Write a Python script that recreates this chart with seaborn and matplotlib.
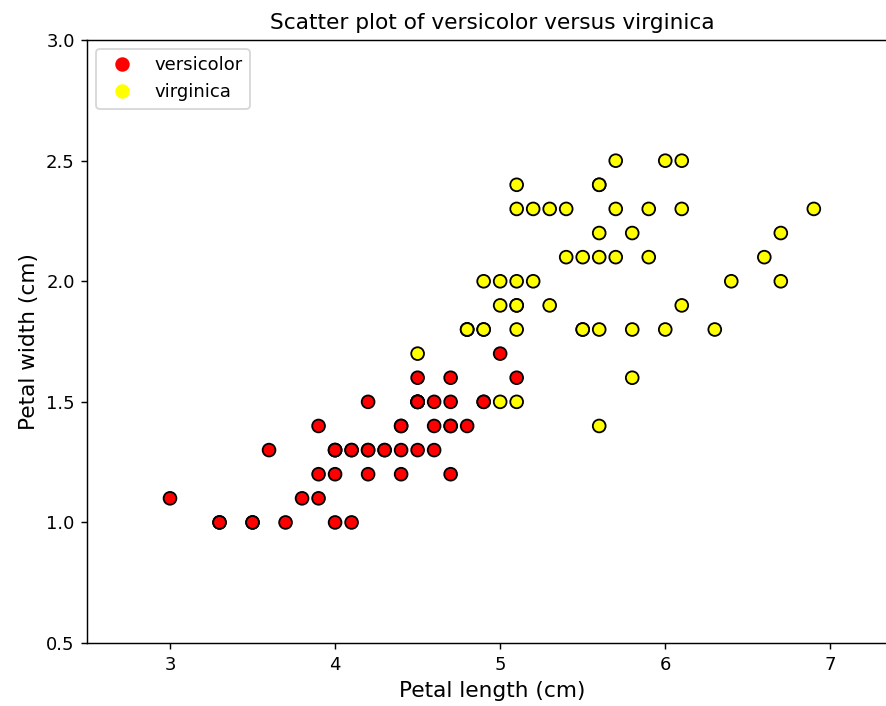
import matplotlib
matplotlib.use("Agg")
import matplotlib.pyplot as plt
from matplotlib.lines import Line2D
import seaborn as sns
import pandas as pd

# Iris petal measurements for the two species
versicolor_length = [4.7, 4.5, 4.9, 4.0, 4.6, 4.5, 4.7, 3.3, 4.6, 3.9,
                     3.5, 4.2, 4.0, 4.7, 3.6, 4.4, 4.5, 4.1, 4.5, 3.9,
                     4.8, 4.0, 4.9, 4.7, 4.3, 4.4, 4.8, 5.0, 4.5, 3.5,
                     3.8, 3.7, 3.9, 5.1, 4.5, 4.5, 4.7, 4.4, 4.1, 4.0,
                     4.4, 4.6, 4.0, 3.3, 4.2, 4.2, 4.2, 4.3, 3.0, 4.1]
versicolor_width = [1.4, 1.5, 1.5, 1.3, 1.5, 1.3, 1.6, 1.0, 1.3, 1.4,
                    1.0, 1.5, 1.0, 1.4, 1.3, 1.4, 1.5, 1.0, 1.5, 1.1,
                    1.8, 1.3, 1.5, 1.2, 1.3, 1.4, 1.4, 1.7, 1.5, 1.0,
                    1.1, 1.0, 1.2, 1.6, 1.5, 1.6, 1.5, 1.3, 1.3, 1.3,
                    1.2, 1.4, 1.2, 1.0, 1.3, 1.2, 1.3, 1.3, 1.1, 1.3]
virginica_length = [6.0, 5.1, 5.9, 5.6, 5.8, 6.6, 4.5, 6.3, 5.8, 6.1,
                    5.1, 5.3, 5.5, 5.0, 5.1, 5.3, 5.5, 6.7, 6.9, 5.0,
                    5.7, 4.9, 6.7, 4.9, 5.7, 6.0, 4.8, 4.9, 5.6, 5.8,
                    6.1, 6.4, 5.6, 5.1, 5.6, 6.1, 5.6, 5.5, 4.8, 5.4,
                    5.6, 5.1, 5.1, 5.9, 5.7, 5.2, 5.0, 5.2, 5.4, 5.1]
virginica_width = [2.5, 1.9, 2.1, 1.8, 2.2, 2.1, 1.7, 1.8, 1.8, 2.5,
                   2.0, 1.9, 2.1, 2.0, 2.4, 2.3, 1.8, 2.2, 2.3, 1.5,
                   2.3, 2.0, 2.0, 1.8, 2.1, 1.8, 1.8, 1.8, 2.1, 1.6,
                   1.9, 2.0, 2.2, 1.5, 1.4, 2.3, 2.4, 1.8, 1.8, 2.1,
                   2.4, 2.3, 1.9, 2.3, 2.5, 2.3, 1.9, 2.0, 2.3, 1.8]

species = ["versicolor", "virginica"]
colors = {"versicolor": "red", "virginica": "yellow"}

df = pd.DataFrame({
    "petal_length": versicolor_length + virginica_length,
    "petal_width": versicolor_width + virginica_width,
    "species": ["versicolor"] * len(versicolor_length) + ["virginica"] * len(virginica_length),
})

DPI = 130
fig = plt.figure(figsize=(886 / DPI, 706 / DPI), dpi=DPI)
ax = fig.add_axes([0.0987, 0.0892, 0.913, 0.854])

sns.scatterplot(data=df, x="petal_length", y="petal_width", hue="species",
                hue_order=species, palette=colors, s=50, edgecolor="black",
                linewidth=1.0, legend=False, ax=ax)

ax.set_xlim(2.5, 7.4)
ax.set_ylim(0.5, 3.0)
ax.set_xticks([3, 4, 5, 6, 7])
ax.set_yticks([0.5, 1.0, 1.5, 2.0, 2.5, 3.0])
ax.tick_params(labelsize=10)
ax.set_xlabel("Petal length (cm)", fontsize=12)
ax.set_ylabel("Petal width (cm)", fontsize=12)
ax.set_title("Scatter plot of versicolor versus virginica", fontsize=12)

handles = [Line2D([], [], marker="o", linestyle="", markersize=7,
                  markerfacecolor=colors[s], markeredgecolor=colors[s], label=s)
           for s in species]
ax.legend(handles=handles, loc="upper left", fontsize=10)

fig.savefig("out.png", dpi=DPI)
